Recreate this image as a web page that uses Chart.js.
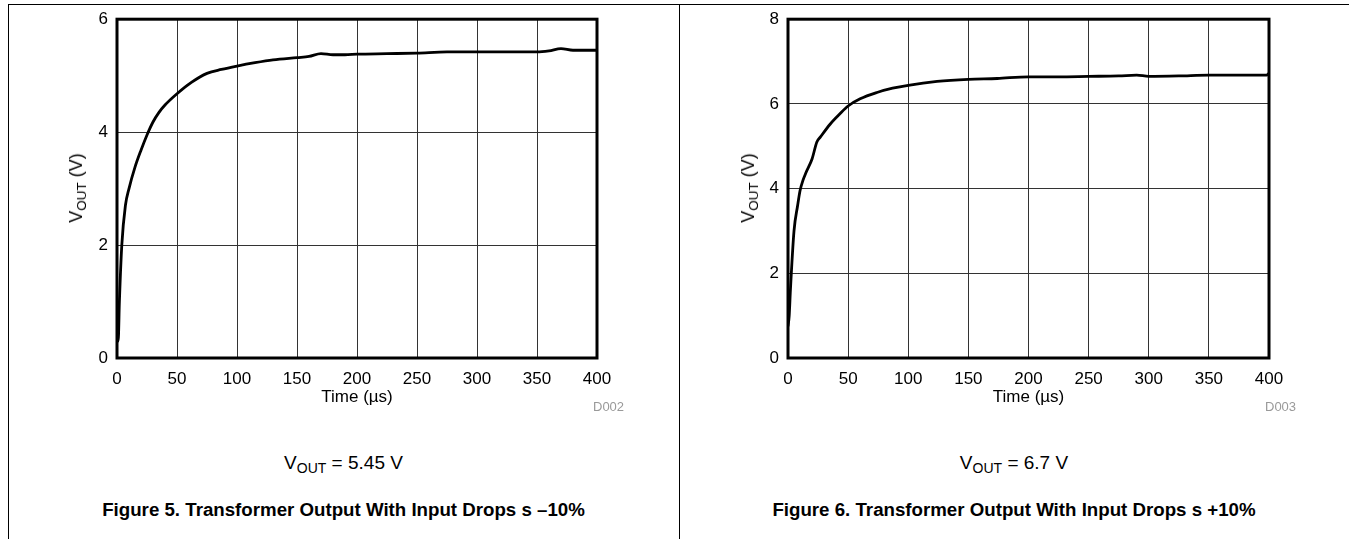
<!DOCTYPE html>
<html>
<head>
<meta charset="utf-8">
<script src="https://cdn.jsdelivr.net/npm/chart.js@4.4.1/dist/chart.umd.min.js"></script>
<style>
  html, body { margin: 0; padding: 0; background: #fff; }
  body { font-family: "Liberation Sans", Arial, sans-serif; color: #000; }
  #wrap { position: relative; width: 1349px; height: 539px; overflow: hidden; }
  .frame { position: absolute; left: 8px; top: 4px; width: 1341px; height: 540px; border-left: 1px solid #000; border-top: 1px solid #000; box-sizing: border-box; }
  .divider { position: absolute; left: 679px; top: 4px; width: 0; height: 540px; border-left: 1px solid #000; }
  canvas { position: absolute; top: 0; }
  .cap { position: absolute; text-align: center; white-space: nowrap; height: 26px; line-height: 26px; }
  .cap sub { font-size: 14px; vertical-align: -4px; line-height: 0; }
  .bold { font-weight: bold; font-size: 18.7px; }
  .ytitle { position: absolute; white-space: nowrap; font-size: 18px; transform: translate(-50%, -50%) rotate(-90deg); line-height: 20px; }
  .ytitle sub { font-size: 13.5px; vertical-align: -4px; line-height: 0; }
  .code { position: absolute; font-size: 13px; color: #999; line-height: 14px; }
</style>
</head>
<body>
<div id="wrap">
  <div class="frame"></div>
  <div class="divider"></div>
  <canvas id="c1" width="679" height="430" style="left:0px"></canvas>
  <canvas id="c2" width="670" height="430" style="left:679px"></canvas>
  <div class="ytitle" style="left:76px; top:188px">V<sub>OUT</sub> (V)</div>
  <div class="ytitle" style="left:748px; top:188px">V<sub>OUT</sub> (V)</div>
  <div class="code" style="left:593px; top:400px">D002</div>
  <div class="code" style="left:1265px; top:400px">D003</div>
  <div class="cap" style="left:8px; width:671px; top:450px; font-size:19px">V<sub>OUT</sub> = 5.45 V</div>
  <div class="cap" style="left:679px; width:670px; top:450px; font-size:19px">V<sub>OUT</sub> = 6.7 V</div>
  <div class="cap bold" style="left:8px; width:671px; top:497px">Figure 5. Transformer Output With Input Drops s –10%</div>
  <div class="cap bold" style="left:679px; width:670px; top:497px">Figure 6. Transformer Output With Input Drops s +10%</div>
</div>
<script>
// ---- Data ----
const timeFig5 = [0, 1, 2, 4, 7, 10, 15, 20, 25, 30, 35, 40, 50, 62, 75, 87, 100, 115, 130, 150, 160, 170, 180, 190, 200, 225, 250, 275, 300, 325, 350, 360, 370, 380, 400];
const voutFig5 = [0.35, 0.3, 1.0, 2.0, 2.7, 3.0, 3.38, 3.68, 3.95, 4.18, 4.35, 4.48, 4.68, 4.88, 5.04, 5.11, 5.17, 5.23, 5.28, 5.32, 5.34, 5.39, 5.37, 5.37, 5.38, 5.39, 5.40, 5.42, 5.42, 5.42, 5.42, 5.44, 5.48, 5.45, 5.45];

const timeFig6 = [0, 1, 2, 5, 8, 10, 12.5, 15, 20, 24, 27, 35, 43, 50, 60, 74, 87, 100, 124, 150, 174, 200, 225, 250, 275, 290, 300, 325, 350, 375, 398, 400];
const voutFig6 = [0.75, 1.0, 1.6, 3.0, 3.6, 3.95, 4.2, 4.38, 4.7, 5.1, 5.22, 5.52, 5.76, 5.95, 6.12, 6.27, 6.37, 6.44, 6.53, 6.58, 6.60, 6.64, 6.64, 6.65, 6.66, 6.68, 6.65, 6.66, 6.68, 6.68, 6.68, 6.72];

const xTickStep = 50;
const xMin = 0, xMax = 400;
const yMaxFig5 = 6, yMaxFig6 = 8, yTickStep = 2;
const xTitle = 'Time (µs)';

const frameBox = {
  id: 'frameBox',
  afterDatasetsDraw(chart) {
    const a = chart.chartArea, ctx = chart.ctx;
    ctx.save();
    ctx.strokeStyle = '#000';
    ctx.lineWidth = 3;
    ctx.strokeRect(a.left, a.top, a.right - a.left, a.bottom - a.top);
    ctx.restore();
  }
};

function makeChart(id, times, values, yMax, padLeft, padRight) {
  const pts = times.map((t, i) => ({ x: t, y: values[i] }));
  return new Chart(document.getElementById(id), {
    type: 'line',
    data: { datasets: [{ data: pts, borderColor: '#000', borderWidth: 2.8, pointRadius: 0, cubicInterpolationMode: 'monotone', fill: false }] },
    plugins: [frameBox],
    options: {
      responsive: false,
      animation: false,
      devicePixelRatio: 1,
      layout: { padding: { left: padLeft, right: padRight, top: 18, bottom: 12 } },
      plugins: { legend: { display: false }, tooltip: { enabled: false } },
      scales: {
        x: {
          type: 'linear', min: xMin, max: xMax,
          ticks: { stepSize: xTickStep, color: '#000', padding: 11, font: { family: '"Liberation Sans", Arial', size: 17 }, maxRotation: 0 },
          grid: { color: '#333', lineWidth: 1, drawTicks: false },
          border: { display: false },
          title: { display: true, text: xTitle, color: '#000', font: { family: '"Liberation Sans", Arial', size: 17 }, padding: { top: 0, bottom: 10 } },
          afterFit(s) { s.height = 60; }
        },
        y: {
          type: 'linear', min: 0, max: yMax,
          ticks: { stepSize: yTickStep, color: '#000', padding: 9, font: { family: '"Liberation Sans", Arial', size: 17 } },
          grid: { color: '#333', lineWidth: 1, drawTicks: false },
          border: { display: false },
          afterFit(s) { s.width = 50; }
        }
      }
    }
  });
}

makeChart('c1', timeFig5, voutFig5, yMaxFig5, 67, 82);
makeChart('c2', timeFig6, voutFig6, yMaxFig6, 59, 80);
</script>
</body>
</html>
